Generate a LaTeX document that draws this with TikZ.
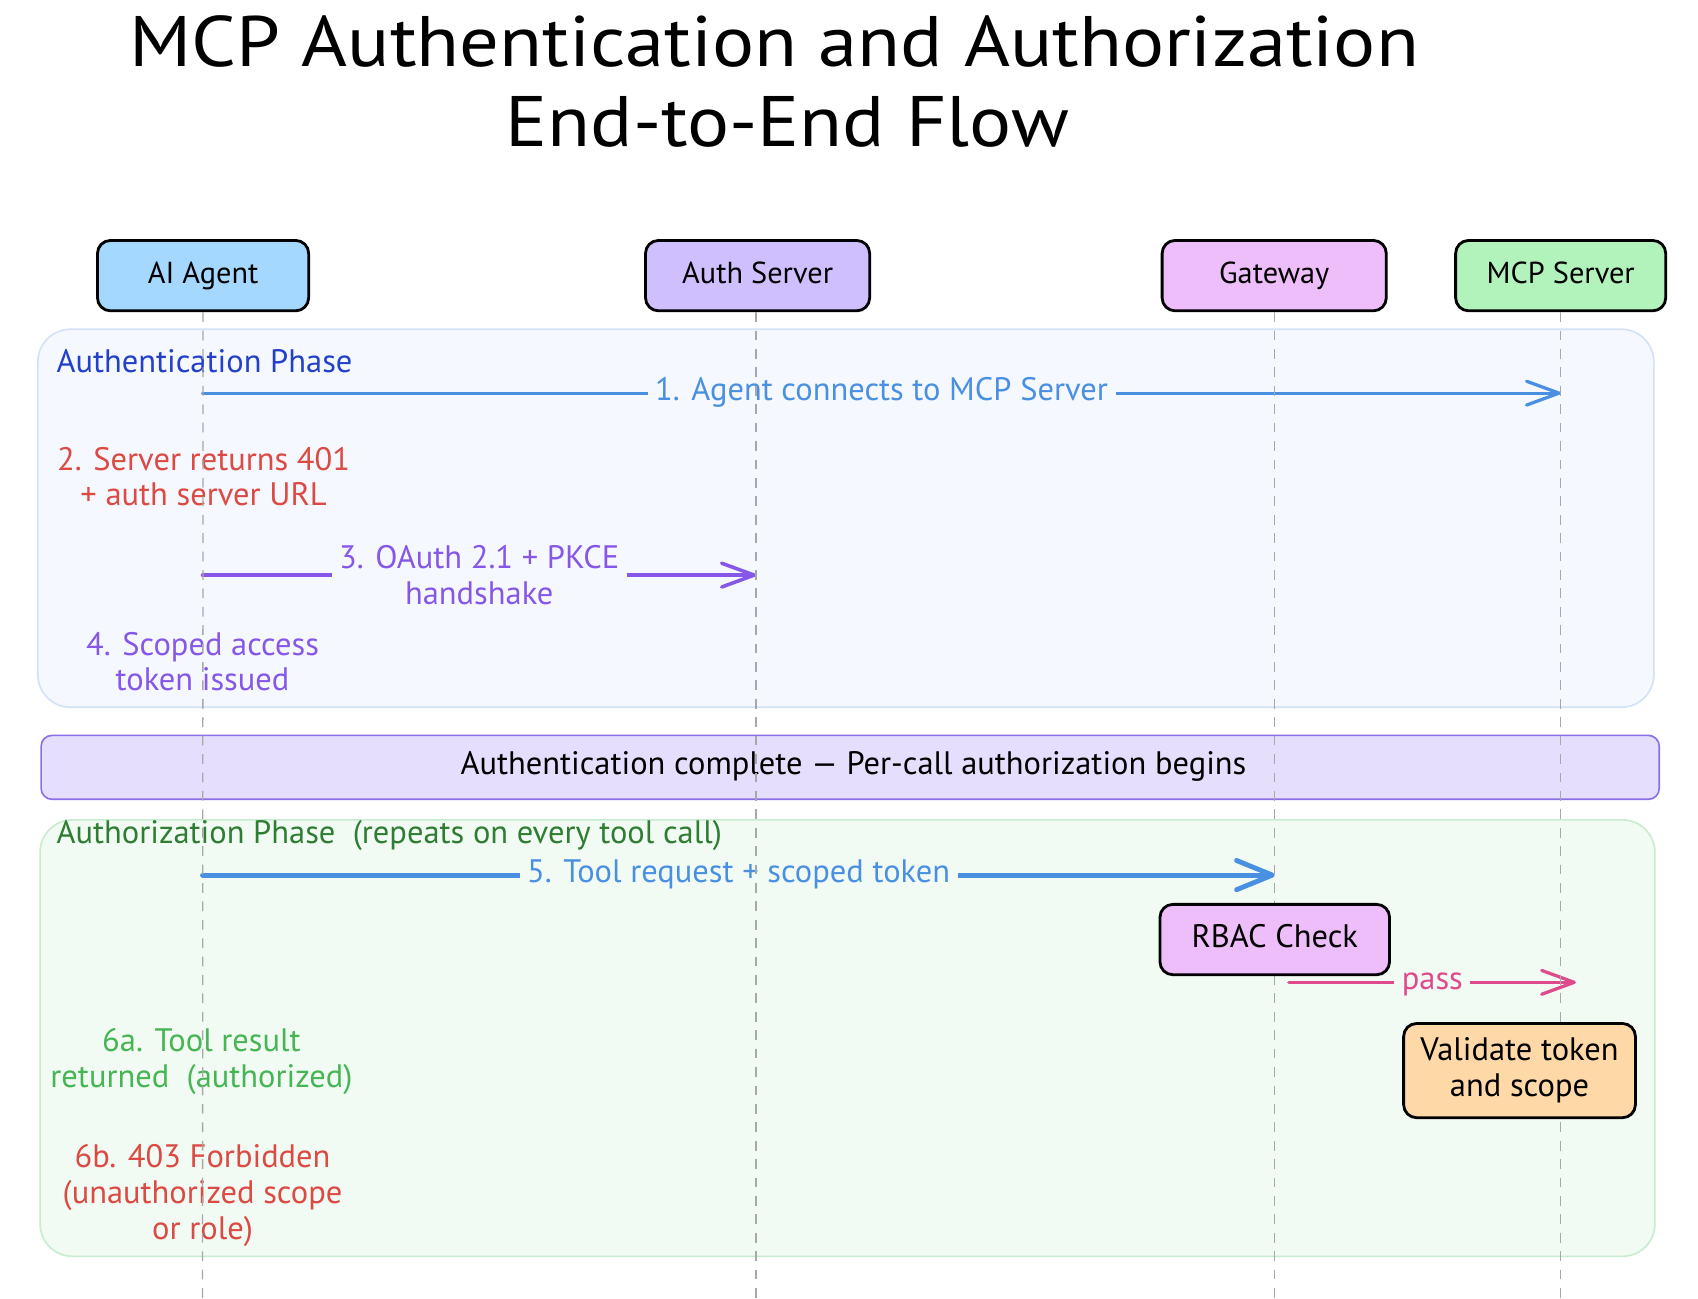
\documentclass[tikz,border=0pt]{standalone}
\usepackage{fontspec}
\setmainfont{PT Sans}
\newfontfamily\titlefont{PT Sans}[FakeStretch=1.1]
\usetikzlibrary{arrows.meta}
\definecolor{agentfill}{HTML}{A5D8FF}
\definecolor{authfill}{HTML}{D0BFFF}
\definecolor{gatefill}{HTML}{EEBEFA}
\definecolor{mcpfill}{HTML}{B2F2BB}
\definecolor{valfill}{HTML}{FFD8A8}
\definecolor{authbg}{HTML}{F5F8FE}
\definecolor{authbd}{HTML}{D3E2F7}
\definecolor{authzbg}{HTML}{F2FBF3}
\definecolor{authzbd}{HTML}{C8ECCF}
\definecolor{divbg}{HTML}{E5DEFC}
\definecolor{divbd}{HTML}{8A6FE8}
\definecolor{cblue}{HTML}{4A90E2}
\definecolor{cdblue}{HTML}{2340C8}
\definecolor{cred}{HTML}{DC4A44}
\definecolor{cpurple}{HTML}{8657E8}
\definecolor{cdgreen}{HTML}{2E7D32}
\definecolor{cgreen}{HTML}{46B554}
\definecolor{cpink}{HTML}{DE4A8C}
\definecolor{cline}{HTML}{A8A8A8}
\begin{document}
\begin{tikzpicture}[x=1pt,y=-1pt,
  txt/.style={font=\fontsize{30}{33}\selectfont, align=center, inner sep=0pt},
  txts/.style={txt, text height=21pt, text depth=7pt},
  part/.style={draw=black, line width=2.6pt, rounded corners=12pt, minimum height=65pt, font=\fontsize{28}{33}\selectfont, align=center, text height=20pt, text depth=6pt},
  boxtxt/.style={draw=black, line width=2.6pt, rounded corners=12pt, minimum height=65pt, font=\fontsize{30}{33}\selectfont, align=center},
  lifeline/.style={draw=cline, line width=1.2pt, dash pattern=on 9pt off 8pt},
  region/.style={line width=1.5pt, rounded corners=30pt},
  msg/.style={line width=3pt, line cap=round, -{Straight Barb[length=30pt,width=22pt,line cap=round,line join=round]}},
  lbl/.style={txt, inner xsep=7pt, inner ysep=2pt},
  lbls/.style={txts, inner xsep=7pt, inner ysep=2pt}
]
\useasboundingbox (0,0) rectangle (1567.8,1198.5);
\fill[white] (0,0) rectangle (1567.8,1198.5);

% title
\node[font=\titlefont\fontsize{66}{75}\selectfont, inner sep=0pt] (title1) at (715,38) {MCP Authentication and Authorization};
\node[font=\titlefont\fontsize{66}{75}\selectfont, inner sep=0pt] (title2) at (727,113) {End-to-End Flow};

% regions
\draw[region, draw=authbd, fill=authbg] (35,304) rectangle (1527,653);
\draw[line width=1.5pt, rounded corners=10pt, draw=divbd, fill=divbg] (38,679) rectangle (1532,738);
\draw[region, draw=authzbd, fill=authzbg] (37,757) rectangle (1528,1160);

\node[txts, anchor=west, text=cdblue] (authph) at (52,337) {Authentication Phase};
\node[txts] (divtxt) at (788,708) {Authentication complete — Per-call authorization begins};
\node[txts, anchor=west, text=cdgreen] (authzph) at (52,772) {Authorization Phase \ (repeats on every tool call)};

% participants
\node[part, fill=agentfill, minimum width=195pt] (agent) at (187.5,254.5) {AI Agent};
\node[part, fill=authfill, minimum width=207pt] (auth) at (699.5,254.5) {Auth Server};
\node[part, fill=gatefill, minimum width=207pt] (gate) at (1176.5,254.5) {Gateway};
\node[part, fill=mcpfill, minimum width=194pt] (mcp) at (1441,254.5) {MCP Server};

% lifeline ends
\coordinate (agentEnd) at (187,1198.5);
\coordinate (authEnd) at (698,1198.5);
\coordinate (gateEnd) at (1177,1198.5);
\coordinate (mcpEnd) at (1441,1198.5);

% message coordinates
\coordinate (m1s) at (187,363);
\coordinate (m1e) at (1441,363);
\coordinate (m3s) at (187,531);
\coordinate (m3e) at (698,531);
\coordinate (m5s) at (187,808);
\coordinate (m5e) at (1177,808);
\coordinate (mps) at (1190,907);
\coordinate (mpe) at (1455,907);

% messages
\draw[msg, draw=cblue] (m1s) -- node[lbls, fill=authbg, text=cblue] (l1) {1. Agent connects to MCP Server} (m1e);
\draw[msg, draw=cpurple, line width=3.3pt] (m3s) -- node[lbl, fill=authbg, text=cpurple] (l3) {3. OAuth 2.1 + PKCE\\handshake} (m3e);
\draw[msg, draw=cblue, line width=4.5pt, -{Straight Barb[length=33pt,width=27pt,line cap=round,line join=round]}] (m5s) -- node[lbls, fill=authzbg, text=cblue] (l5) {5. Tool request + scoped token} (m5e);
\draw[msg, draw=cpink] (mps) -- node[lbls, fill=authzbg, text=cpink] (lp) {pass} (mpe);

% free labels
\node[txt, text=cred] (l2) at (188,440) {2. Server returns 401\\+ auth server URL};
\node[txt, text=cpurple] (l4) at (187,611) {4. Scoped access\\token issued};
\node[txt, text=cgreen] (l6a) at (186,980) {6a. Tool result\\returned \ (authorized)};
\node[txt, text=cred] (l6b) at (187,1104) {6b. 403 Forbidden\\(unauthorized scope\\or role)};

% lifelines
\draw[lifeline] (agent.south) -- (agentEnd);
\draw[lifeline] (auth.south -| authEnd) -- (authEnd);
\draw[lifeline] (gate.south -| gateEnd) -- (gateEnd);
\draw[lifeline] (mcp.south) -- (mcpEnd);

% activity boxes
\node[boxtxt, fill=gatefill, minimum width=212pt, text height=21pt, text depth=7pt] (rbac) at (1177,867.5) {RBAC Check};
\node[boxtxt, fill=valfill, minimum width=214pt, minimum height=87pt] (val) at (1403,988.5) {Validate token\\and scope};
\end{tikzpicture}
\end{document}
